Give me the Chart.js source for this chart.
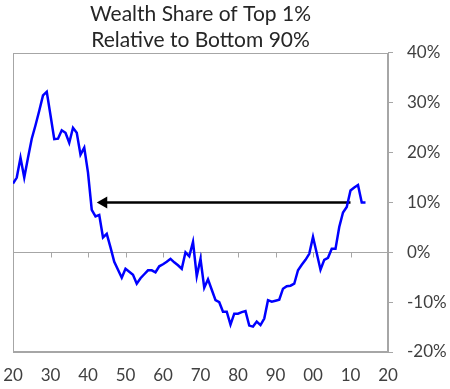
<!DOCTYPE html>
<html>
<head>
<meta charset="utf-8">
<script src="https://cdn.jsdelivr.net/npm/chart.js@4"></script>
<style>
html, body { margin: 0; padding: 0; background: #fff; }
</style>
</head>
<body>
<canvas id="wealthChart" width="450" height="389"></canvas>
<script>
// DATA
const years = [
    1920, 1921, 1922, 1923, 1924, 1925, 1926, 1927, 1928, 1929,
    1930, 1931, 1932, 1933, 1934, 1935, 1936, 1937, 1938, 1939,
    1940, 1941, 1942, 1943, 1944, 1945, 1946, 1947, 1948, 1949,
    1950, 1951, 1952, 1953, 1954, 1955, 1956, 1957, 1958, 1959,
    1960, 1961, 1962, 1963, 1964, 1965, 1966, 1967, 1968, 1969,
    1970, 1971, 1972, 1973, 1974, 1975, 1976, 1977, 1978, 1979,
    1980, 1981, 1982, 1983, 1984, 1985, 1986, 1987, 1988, 1989,
    1990, 1991, 1992, 1993, 1994, 1995, 1996, 1997, 1998, 1999,
    2000, 2001, 2002, 2003, 2004, 2005, 2006, 2007, 2008, 2009,
    2010, 2011, 2012, 2013, 2014
];
const shareVsBottom90 = [
    13.8, 15.0, 19.0, 15.0, 19.0, 22.8, 25.5, 28.4, 31.5, 32.2,
    27.5, 22.7, 22.8, 24.5, 24.0, 22.0, 25.0, 24.0, 19.6, 21.0,
    16.0, 8.5, 7.2, 7.5, 3.0, 3.7, 1.0, -1.9, -3.5, -5.1,
    -3.3, -3.9, -4.5, -6.3, -5.2, -4.4, -3.6, -3.6, -4.0, -2.8,
    -2.4, -1.9, -1.3, -2.0, -2.6, -3.3, 0.0, -0.8, 2.1, -4.8,
    -1.3, -7.1, -5.4, -7.5, -9.6, -10.0, -11.9, -11.9, -14.5, -12.3,
    -12.3, -12.0, -11.8, -14.7, -14.9, -13.9, -14.6, -13.3, -9.6, -9.9,
    -9.7, -9.5, -7.3, -6.8, -6.7, -6.3, -3.6, -2.5, -1.5, -0.3,
    3.1, -0.2, -3.5, -1.5, -1.1, 0.7, 0.7, 5.1, 8.0, 9.1,
    12.4, 13.0, 13.5, 10.0, 10.0
];
const arrowYears = [1944.2, 2010];
const arrowLevel = [10, 10];
const xTickLabels = ["20", "30", "40", "50", "60", "70", "80", "90", "00", "10", "20"];
const yTickValues = [-20, -10, 0, 10, 20, 30, 40];
const titleLines = ["Wealth Share of Top 1%", "Relative to Bottom 90%"];

const FONT = "Lato, 'Liberation Sans', sans-serif";
const axisGray = "#a6a6a6";
const textGray = "#404040";

// FRAME + ZERO LINE TICKS
const framePlugin = {
    id: "frame",
    beforeDatasetsDraw(chart) {
        const { ctx, chartArea: a, scales: { x, y } } = chart;
        ctx.save();
        ctx.strokeStyle = axisGray;
        ctx.lineWidth = 1;
        ctx.strokeRect(Math.round(a.left) + 0.5, Math.round(a.top) + 0.5,
            Math.round(a.width) - 1, Math.round(a.height) - 1);

        const y0 = Math.round(y.getPixelForValue(0)) + 0.5;
        ctx.beginPath();
        x.ticks.forEach(t => {
            const px = Math.round(x.getPixelForValue(t.value)) + 0.5;
            ctx.moveTo(px, y0);
            ctx.lineTo(px, y0 + 5);
        });
        ctx.stroke();
        ctx.restore();
    }
};

// GRÁFICO
function loadChart() {
    const ctx = document.getElementById("wealthChart");

    new Chart(ctx, {
        type: "line",
        data: {
            datasets: [{
                data: years.map((yr, i) => ({ x: yr, y: shareVsBottom90[i] })),
                borderColor: "#0000ff",
                borderWidth: 2.5,
                pointRadius: 0,
                tension: 0
            }, {
                data: arrowYears.map((yr, i) => ({ x: yr, y: arrowLevel[i] })),
                borderColor: "#000000",
                borderWidth: 2.5,
                pointStyle: "triangle",
                rotation: -90,
                pointRadius: [7, 0],
                pointBackgroundColor: "#000000",
                pointBorderWidth: 0
            }]
        },
        options: {
            responsive: false,
            animation: false,
            devicePixelRatio: 1,
            layout: { padding: { left: 13, right: 0, top: 0, bottom: 0 } },
            plugins: {
                legend: { display: false },
                tooltip: { enabled: false },
                title: {
                    display: true,
                    text: titleLines,
                    fullSize: false,
                    color: "#262626",
                    font: { family: FONT, size: 21, weight: "normal", lineHeight: 1.238 },
                    padding: { top: 1, bottom: 0 }
                }
            },
            scales: {
                x: {
                    type: "linear",
                    min: 1920,
                    max: 2020,
                    afterFit: s => {
                        s.height = 37;
                        s.paddingLeft = 0;
                        s.paddingRight = 0;
                    },
                    ticks: {
                        stepSize: 10,
                        padding: 13,
                        maxRotation: 0,
                        color: textGray,
                        font: { family: FONT, size: 17 },
                        callback: v => xTickLabels[Math.round((v - 1920) / 10)]
                    },
                    grid: { drawOnChartArea: false, drawTicks: false },
                    border: { color: axisGray }
                },
                y: {
                    position: "right",
                    min: -20,
                    max: 40,
                    afterFit: s => { s.width = 62; },
                    afterBuildTicks: s => { s.ticks = yTickValues.map(v => ({ value: v })); },
                    ticks: {
                        padding: 14,
                        color: textGray,
                        font: { family: FONT, size: 17 },
                        callback: v => v + "%"
                    },
                    grid: {
                        color: c => (c.tick && c.tick.value === 0 ? axisGray : "transparent"),
                        tickColor: axisGray,
                        tickLength: 5,
                        lineWidth: 1
                    },
                    border: { color: axisGray }
                }
            }
        },
        plugins: [framePlugin]
    });
}

// INIT
window.onload = () => {
    loadChart();
};
</script>
</body>
</html>
